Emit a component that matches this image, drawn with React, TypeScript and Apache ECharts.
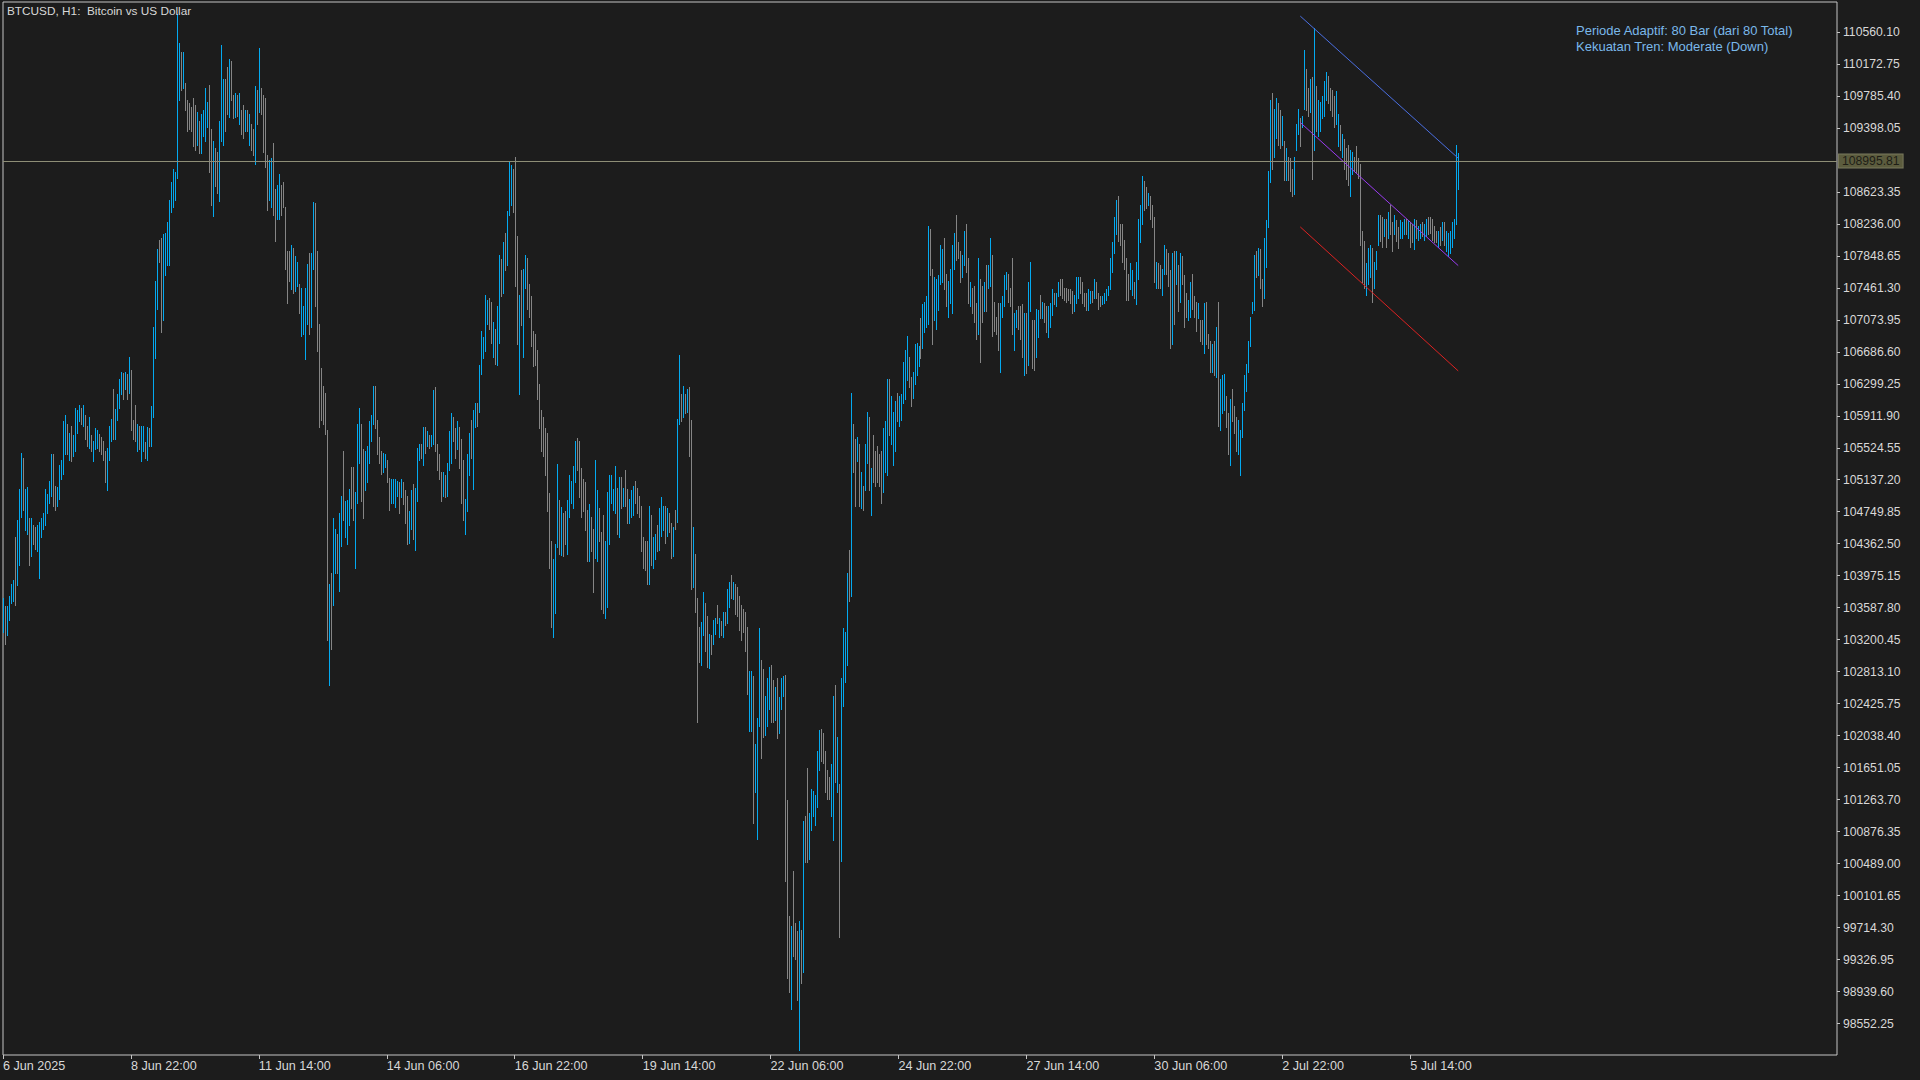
import React, { useEffect, useRef } from "react";
import * as echarts from "echarts";

// ---------- texts ----------
const symbolTitle = "BTCUSD, H1:  Bitcoin vs US Dollar";
const infoLines = ["Periode Adaptif: 80 Bar (dari 80 Total)", "Kekuatan Tren: Moderate (Down)"];
const currentPrice = 108995.81;

// ---------- axes ----------
const priceMin = 98173;
const priceMax = 110921;
const xTickIndex = [0, 64, 128, 192, 256, 320, 384, 448, 512, 576, 640, 704];
const xTickLabels = [
  "6 Jun 2025", "8 Jun 22:00", "11 Jun 14:00", "14 Jun 06:00", "16 Jun 22:00", "19 Jun 14:00",
  "22 Jun 06:00", "24 Jun 22:00", "27 Jun 14:00", "30 Jun 06:00", "2 Jul 22:00", "5 Jul 14:00",
];
const yTickValues = [
  110560.1, 110172.75, 109785.4, 109398.05, 108623.35, 108236.0, 107848.65, 107461.3, 107073.95,
  106686.6, 106299.25, 105911.9, 105524.55, 105137.2, 104749.85, 104362.5, 103975.15, 103587.8,
  103200.45, 102813.1, 102425.75, 102038.4, 101651.05, 101263.7, 100876.35, 100489.0, 100101.65,
  99714.3, 99326.95, 98939.6, 98552.25,
];

// ---------- regression channel (80 bars) ----------
const channelIdx = [649, 728];
const channelUpper = [110750, 109030];
const channelMid = [109462, 107730];
const channelLower = [108198, 106455];

// ---------- H1 bars (index 0 = 6 Jun 2025 06:00) ----------
const opens = [103450,
103520,103320,103500,103690,103720,104300,103950,104250,104800,105300,
104600,104550,104600,104260,104550,104520,104320,104050,104480,104570,
104640,104760,104900,105010,105380,105020,104850,104960,105180,105300,
105500,105780,105420,105740,105460,105560,105740,105880,105980,105830,
105880,105750,105570,105640,105390,105540,105560,105660,105630,105580,
105440,105080,105430,105650,106150,105670,105900,106050,106210,106390,
106260,106380,106240,106400,105830,105990,105520,105760,105400,105520,
105570,105420,105730,105600,106000,106720,107300,108010,107950,107180,
107670,107800,107830,108420,108500,108560,108850,109820,110280,109920,
109910,109700,109660,109620,109700,109620,109240,109440,109140,109330,
109300,109440,109820,109290,108420,109110,109060,108600,109330,109260,
109930,110080,109590,110170,109760,109560,109770,109480,109580,109630,
109390,109580,109230,109410,109340,109050,109820,109680,109840,109730,
109680,109000,108570,108500,109120,108590,108340,108350,108670,108700,
108370,107840,107870,107500,107890,107470,107520,107470,106940,106940,
106680,107100,107780,107080,107770,108380,107800,106920,106430,106230,
106150,105600,102760,103900,103730,104060,104440,103880,104390,105400,
104490,104410,104640,105250,105230,104160,104950,105410,105720,105430,
105060,105150,105390,105650,105870,106220,105820,105620,105450,105260,
105310,105350,105120,104890,104900,104850,104960,105070,104950,105080,
104970,104880,104420,104590,105010,104370,104940,105400,105540,105370,
105740,105570,105660,105560,105630,106180,105530,105410,105190,104970,
105160,104990,105310,105410,105870,105720,105550,105720,105550,105300,
104530,104830,105250,105810,105120,105810,106030,106020,106470,106640,
106760,107060,107300,107250,106670,106920,106600,106900,107770,107460,
108080,107800,108410,108500,108860,108900,107960,106300,107610,106730,
107500,107760,107470,107300,106900,106860,106650,106240,105940,105850,
105700,105620,104890,104300,103330,103610,104400,104830,104290,104680,
104720,104300,104740,104890,104850,105160,105600,105540,105220,105110,
105050,104710,104220,104650,104460,104300,104230,104750,104420,104600,
103550,103720,104440,104890,104800,104790,104990,104520,105140,104840,
105210,104980,104640,104720,104740,105090,105000,104910,104760,104400,
104360,104340,103970,104650,104110,104210,104550,104340,104500,104560,
104770,104490,104710,104560,104250,104750,104750,105900,106140,105940,
106150,105990,106180,105700,103920,104170,103570,103310,102950,103310,
103590,103420,102900,103230,103180,103300,103600,103260,103400,103270,
103520,103450,103630,103950,103720,103830,103800,103690,103580,103530,
103490,103280,102170,102160,102650,101420,100900,102250,102860,102780,
102090,102200,102400,102840,102660,102270,102670,102100,102390,102550,
102700,101100,99780,98820,100300,99730,99600,98350,99640,99300,
101010,101550,100600,100950,101100,101000,101240,101680,102080,102020,
101800,101580,101510,101130,100950,102550,101420,101300,100700,102500,
102750,103000,104230,103900,105770,105550,105390,105500,104840,105040,
105060,105400,105820,104760,105620,105440,105500,105400,105420,105060,
105290,105300,106300,105620,105380,105540,106160,105830,105890,106120,
106170,106390,106590,106340,106160,106340,106440,106540,107040,106790,
106960,107020,107150,108120,107600,107120,107020,107240,107560,107570,
108000,107590,107150,107320,107240,107740,108280,107990,107860,107620,
107780,108170,107770,107270,107420,107440,107230,107000,107460,107440,
107210,107680,107490,107540,107760,107260,107080,107220,106530,107140,
107270,107470,107590,107430,107720,106760,107010,107200,107190,107200,
106480,107080,106620,107230,107010,107010,106680,106890,107350,107110,
107250,107200,106900,107020,107160,107390,107250,107380,107550,107540,
107440,107440,107430,107420,107400,107200,107310,107370,107570,107500,
107380,107380,107220,107300,107410,107360,107510,107380,107350,107270,
107290,107330,107390,107470,107690,107920,108150,108510,108210,108190,
108000,107770,107590,107480,107410,107510,107310,107640,108050,108290,
108720,108650,108480,108540,108430,108240,107490,107730,107710,107410,
107660,107900,107840,107590,106880,107820,107540,107690,107340,107810,
107550,107370,107090,107150,107590,107330,107260,107110,107040,107040,
106730,107250,106880,106790,106480,106780,106420,107150,105780,105990,
106020,106120,105900,105390,106200,105990,105860,105480,105240,105690,
106020,106240,106470,106790,107170,107250,107870,107640,107890,107540,
107400,107760,108250,108820,109740,109090,109320,109650,109570,109230,
109190,108800,109010,108990,108870,108640,109160,109350,109480,109420,
109700,110060,109840,109630,109900,109250,109850,109330,109390,109540,
109580,109770,109990,109850,109830,109740,109480,109210,109400,109070,
109230,109110,109150,108620,108870,109030,109140,109000,108880,108090,
107980,107410,107550,107630,107880,107490,107720,108020,108310,108290,
108110,108260,108100,108420,108230,108130,108250,108170,108090,108090,
108130,108270,108090,108230,108210,107960,108250,108060,108090,108240,
108060,108110,108300,108300,108270,108190,108140,107980,108170,108060,
108230,107930,107870,107900,107990,108090,108280,108700];

const highs = [103700,
103608,103608,103725,103875,103925,104442,104650,105026,105460,105400,
105026,105050,104675,104675,104592,104567,104592,104625,104675,104734,
105026,104959,105126,105443,105443,105067,105050,105317,105376,105843,
105926,105818,105709,105793,105676,106010,105976,106043,106010,106043,
105926,105793,105901,105676,105609,105759,105743,105693,105659,105609,
105484,105526,105793,105876,106235,105993,106176,106360,106443,106426,
106443,106418,106626,106460,105859,106043,105809,105793,105793,105793,
105593,105776,105759,106026,106985,107543,107927,108044,108060,108110,
108127,108260,108527,108736,108902,108861,110778,110428,110320,110320,
109945,109736,109694,109653,109761,109678,109595,109486,109570,109611,
109878,109711,109920,109378,109236,109153,109111,109486,110403,109986,
109986,110136,110236,110211,109795,109820,109795,109820,109611,109678,
109611,109611,109570,109444,109378,109903,109861,110361,109878,109795,
109761,109069,109011,109027,109211,108652,108711,108844,108711,108736,
108444,107902,107902,107985,107944,107844,107777,107510,107460,107235,
107460,107752,107877,107877,108502,108486,107902,107027,106485,106276,
106193,105734,103875,104009,104675,104542,104484,104734,104942,105484,
104876,104892,105026,105292,105292,104984,105809,106010,105818,105509,
105484,105543,105843,105918,106276,106276,105859,105651,105484,105459,
105443,105376,105159,105142,105142,105150,105126,105109,105150,105109,
105009,104942,104759,105009,105084,105042,105526,105568,105568,105776,
105776,105726,105676,105676,106226,106260,105568,105443,105234,105234,
105192,105343,105726,105943,105901,105759,105843,105776,105626,105376,
104901,105443,105709,105859,105985,106068,106068,106526,106943,106860,
107377,107310,107343,107293,107043,106960,107235,107860,107810,108010,
108127,108394,109002,108944,108902,109044,108085,107377,107677,107694,
107860,107819,107510,107360,106943,106902,106710,106293,105985,105893,
105759,105709,104976,104392,104175,104359,105326,104892,104809,104734,
104759,104892,105192,105126,105309,105609,105643,105609,105276,105150,
105109,104776,104842,104692,104542,105376,105009,104792,104509,104709,
104400,104984,105192,105192,105026,105301,105042,105176,105176,105042,
105259,105026,104901,105009,105067,105126,105042,104942,104817,104442,
104400,104400,104817,104709,104442,104484,104592,104792,104926,104817,
104817,104792,104734,104609,104567,104776,105876,106652,106176,106276,
106176,106235,106260,105859,104567,104234,103708,103358,103417,103775,
103650,103484,103275,103258,103442,103458,103625,103458,103425,103542,
103542,103817,103900,103984,103900,103875,103842,103734,103625,103567,
103542,103358,102816,102816,102758,101941,102258,103342,102958,102841,
102525,102733,102875,102900,102708,102625,102733,102508,102733,102758,
102775,101257,99857,99732,100399,99773,99673,99790,99690,101007,
101066,101649,101107,101399,101374,101316,101858,102108,102125,102066,
101858,101624,101541,101691,102525,102650,102024,101457,102733,103342,
103292,104009,104292,106193,105818,105626,105651,105568,105234,105067,
105568,105960,105901,105276,105676,105484,105543,105443,105484,105759,
105843,106360,106360,106151,105960,106093,106193,106151,106176,106568,
106710,106877,106627,106376,106443,106777,106793,106760,107093,107260,
107293,107360,108210,108177,107694,107594,107568,107610,107985,107927,
108069,107627,107543,107694,107985,108127,108344,108010,107902,107860,
108152,108235,107819,107527,107460,107485,107277,107819,107568,107485,
107527,107735,107735,108069,107860,107293,107110,107277,107277,107360,
107610,107652,107627,107460,107819,107152,107193,107235,107235,107260,
107152,107152,107527,107777,107068,107068,107210,107193,107377,107293,
107277,107235,107235,107277,107443,107401,107401,107527,107568,107568,
107460,107460,107443,107443,107426,107377,107594,107594,107594,107527,
107401,107401,107443,107426,107426,107568,107527,107401,107360,107360,
107401,107443,107485,107819,108010,108319,108527,108569,108235,108235,
108044,107819,107627,107760,107677,107527,107777,108294,108461,108819,
108760,108677,108611,108569,108461,108319,107777,107760,107735,107694,
107985,107927,107877,107677,107877,107902,107902,107735,107877,107844,
107610,107401,107318,107527,107627,107360,107293,107277,107068,107068,
107277,107293,106902,106818,106777,106818,106985,107293,106360,106401,
106418,106151,105943,106110,106235,106026,105901,105859,105734,106068,
106401,106543,106818,107110,107293,107860,107902,107944,107927,107568,
108069,108277,108877,109736,109820,109628,109753,109694,109611,109545,
109236,109153,109044,109027,108902,109044,109444,109628,109511,109545,
110345,110111,109878,109986,110011,110612,109903,109736,109711,109778,
109961,110070,110028,109878,109861,109778,109845,109570,109428,109320,
109261,109153,109194,109128,109111,109044,109178,109027,108961,108152,
108027,107760,107944,107985,107944,107777,107902,108344,108344,108319,
108294,108294,108377,108461,108260,108344,108277,108194,108277,108260,
108294,108294,108277,108260,108235,108294,108277,108210,108235,108260,
108235,108294,108319,108319,108294,108210,108152,108152,108194,108260,
108260,108152,108127,108152,108260,108294,109194,109094];

const lows = [103300,
103150,103258,103442,103650,103675,103625,103859,104109,104692,104776,
104525,104484,104109,104209,104359,104300,104275,103942,104442,104542,
104584,104734,104859,104942,104817,104776,104817,104900,105150,105209,
105443,105443,105376,105359,105426,105484,105709,105843,105818,105793,
105626,105543,105526,105484,105359,105509,105526,105484,105443,105376,
105109,105009,105376,105609,105626,105626,105859,106010,106176,106110,
106235,106110,106193,105734,105626,105609,105484,105509,105359,105484,
105401,105376,105543,105543,105901,106610,107210,107777,106927,107068,
107610,107735,107735,108377,108444,108527,108794,109736,109861,109878,
109611,109361,109378,109361,109178,109128,109194,109094,109094,109294,
109236,109403,108861,108461,108336,108694,108611,108511,109236,109194,
109361,109570,109528,109736,109511,109528,109545,109444,109320,109278,
109361,109361,109194,109128,109069,108961,109444,109595,109570,109111,
108919,108402,108527,108444,108344,108027,108294,108294,108344,108444,
107694,107277,107543,107443,107401,107426,107485,107152,106877,106902,
106593,107027,106902,106985,107694,107235,106693,105776,105859,105818,
105693,103192,102650,103092,103625,104009,104009,103792,104334,104650,
104442,104359,104592,104792,104650,104067,104859,105343,104876,104675,
105009,105109,105343,105609,105818,105759,105443,105343,105209,105234,
105292,105109,104776,104859,104859,104809,104942,104734,104926,104842,
104609,104359,104375,104542,104425,104292,104876,105376,105401,105317,
105459,105543,105526,105543,105568,105484,105259,105150,104876,104942,
104926,104942,105259,105343,105609,105401,105509,105276,104859,104650,
104484,104759,105192,105401,105026,105776,105793,105960,106418,106610,
106693,107027,106960,106793,106627,106543,106526,106793,107360,107401,
107677,107735,108344,108461,108377,107485,106777,106176,107010,106627,
107460,107210,107110,106760,106510,106526,106110,105759,105484,105426,
105192,104759,104067,103358,103233,103525,104317,104234,104225,104209,
104359,104234,104692,104859,104792,105109,105259,104926,104692,104759,
104525,104150,104150,104275,103775,104192,104150,104400,103567,103525,
103458,103592,104359,104859,104776,104734,104484,104442,104792,104817,
104817,104609,104609,104692,104709,104859,104734,104692,104275,104067,
104042,103875,103875,104109,104067,104175,104275,104292,104459,104525,
104375,104459,104509,104192,104209,104542,104625,105818,105843,105901,
105943,105960,105426,103817,103842,103542,102208,102925,102900,103258,
103067,102875,102858,103025,103150,103275,103400,103233,103258,103233,
103375,103400,103592,103708,103692,103508,103484,103317,103192,103292,
103067,102541,102091,102091,100982,101357,100791,102150,101774,102024,
102041,102150,102358,102208,102208,102233,102008,102066,102358,102525,
100274,99106,98940,98731,99373,99340,98840,98231,99040,99173,
100507,100507,100540,100899,101066,100957,101174,101624,101733,101708,
101357,101274,101274,101066,100774,101482,101357,99607,100524,102400,
102691,102900,103675,103734,105234,104817,105359,104817,104792,104776,
105009,105343,105009,104709,105109,105067,105109,105067,104859,104984,
105234,105192,105676,105568,105317,105484,105843,105793,105859,106068,
106110,106343,106260,106026,106126,106293,106401,106510,106610,106735,
106927,106985,107027,107610,106777,107068,106960,107193,107510,107527,
107443,107235,107110,107277,107152,107694,107794,107819,107527,107594,
107735,107652,107277,107235,107152,107043,106843,106902,106568,107043,
107177,107177,107460,107485,106877,106943,106902,106710,106443,107110,
107235,107443,107293,107235,106902,106710,106985,106960,106843,106627,
106401,106426,106526,107177,106485,106460,106627,106860,107093,107093,
107043,106927,106860,106985,107127,107260,107235,107360,107377,107343,
107310,107293,107310,107277,107152,107177,107277,107343,107401,107277,
107235,107193,107193,107277,107293,107343,107343,107210,107235,107260,
107277,107318,107377,107443,107652,107877,108110,108027,107985,107777,
107694,107318,107318,107443,107377,107343,107260,107568,108010,108235,
108402,108427,108461,108294,108194,107527,107460,107460,107460,107377,
107627,107627,107485,106735,106777,107027,107510,107177,107293,107510,
106985,107110,107068,107110,107210,107110,106943,107093,106818,106777,
106677,106777,106735,106443,106443,106401,106376,105793,105734,105943,
105985,105776,105443,105317,105843,105709,105484,105443,105192,105651,
105985,106210,106443,106760,107152,107193,107594,107610,107460,107235,
107343,107710,108194,108736,108902,109044,109278,109194,109153,109194,
108761,108761,108761,108627,108569,108594,109128,109320,109178,109403,
109628,109611,109545,109595,108777,109128,109361,109294,109361,109511,
109545,109736,109694,109611,109545,109403,109444,109178,109128,109044,
108902,108777,108711,108569,108844,108877,108861,108794,107985,107527,
107460,107377,107510,107594,107293,107460,107694,107985,108027,107960,
108094,107960,108069,108110,107902,108110,108027,107944,108069,108069,
108110,108110,108069,107960,108010,107927,108069,108044,108069,108094,
108044,108094,108110,108127,108044,108010,108010,107960,107985,108044,
107985,107902,107844,107877,107960,108069,108235,108652];

const closes = [103600,
103240,103540,103670,103830,103880,103780,104560,104900,105380,104900,
104950,104980,104200,104600,104400,104340,104540,104560,104630,104700,
104960,104920,105080,105380,104900,104820,105010,105260,105340,105760,
105860,105500,105660,105420,105640,105950,105930,106010,105850,106000,
105670,105580,105850,105510,105570,105720,105710,105510,105470,105410,
105160,105470,105740,105840,105700,105950,106130,106310,106400,106150,
106410,106150,106580,105800,105660,105650,105770,105540,105750,105760,
105430,105730,105570,105970,106880,107450,107850,107810,107050,108000,
108070,108200,108440,108690,108850,108820,110100,110350,109900,110260,
109650,109400,109410,109390,109240,109180,109550,109130,109520,109570,
109810,109670,108960,108550,109150,108740,108660,109390,110300,109920,
109420,109620,110170,109780,109540,109790,109570,109780,109350,109320,
109580,109390,109530,109160,109100,109810,109490,110280,109600,109180,
109000,108470,108960,108970,108430,108080,108670,108790,108380,108480,
107770,107340,107580,107930,107460,107800,107740,107190,107400,107190,
107370,107680,107000,107790,108420,107350,106800,105900,105910,105860,
105740,103400,103770,103200,104580,104490,104060,104650,104880,104730,
104830,104840,104980,104850,104710,104900,105720,105940,104970,104760,
105430,105500,105790,105880,106220,105810,105490,105380,105240,105430,
105420,105140,104820,105110,105100,105110,105100,104770,105120,104870,
104650,104420,104710,104960,104490,104970,105460,105540,105430,105720,
105490,105700,105550,105660,106150,105560,105290,105180,104920,105200,
104960,105300,105680,105880,105640,105440,105800,105330,104940,104720,
104850,105370,105650,105450,105890,106030,105830,106460,106890,106830,
107310,107280,107000,106840,107000,106580,107170,107760,107400,107950,
107720,108330,108940,108900,108420,107630,106900,107260,107080,107590,
107820,107270,107150,106820,106550,106570,106170,105810,105530,105470,
105250,104850,104160,103460,104080,104270,105230,104300,104750,104260,
104400,104830,105140,105090,105250,105560,105300,104990,104750,104800,
104580,104210,104770,104320,103860,105260,104920,104440,103660,103640,
104300,104850,105110,105160,104990,105240,104540,105100,104830,105010,
104860,104650,104870,104970,105030,104890,104770,104720,104330,104110,
104080,103930,104720,104170,104400,104450,104310,104740,104880,104780,
104420,104750,104530,104240,104520,104570,105760,106560,105880,106230,
105970,106200,105510,104000,104480,103610,102400,102970,103360,103720,
103120,102940,103230,103050,103410,103430,103420,103430,103280,103500,
103400,103770,103860,103740,103870,103550,103530,103370,103240,103320,
103120,102630,102740,102750,101150,101880,102150,103230,101880,102080,
102480,102680,102830,102270,102250,102590,102070,102470,102700,102730,
100500,99300,99020,99640,99460,99380,98920,99650,99090,100850,
100560,100600,101050,101340,101330,101270,101780,102050,101780,101750,
101410,101310,101300,101620,102350,101600,101950,99800,102550,103250,
103230,103900,103740,105950,105290,104900,105620,104890,105190,104800,
105510,105900,105090,105220,105160,105110,105150,105100,104920,105680,
105780,106250,105740,106090,105900,106040,105880,106110,106140,106520,
106650,106830,106300,106060,106410,106730,106750,106730,106660,107200,
107250,107320,108100,107670,106870,107540,107510,107570,107930,107880,
107510,107280,107500,107650,107900,108080,107850,107840,107570,107830,
108110,107710,107330,107490,107190,107090,106890,107720,106670,107090,
107490,107230,107700,108010,106970,106980,106930,106770,107190,107330,
107570,107620,107330,107260,107000,107100,107160,106990,106880,106690,
107070,106500,107420,107720,106540,106520,107150,107160,107120,107270,
107070,106960,107200,107240,107410,107280,107380,107500,107400,107370,
107330,107310,107330,107300,107180,107350,107560,107570,107420,107300,
107260,107220,107410,107410,107310,107540,107360,107230,107250,107350,
107390,107430,107470,107780,107970,108270,108480,108090,108010,107830,
107740,107370,107350,107720,107640,107360,107730,108230,108420,108760,
108440,108450,108590,108320,108220,107600,107740,107490,107480,107660,
107950,107650,107520,106830,107770,107100,107860,107230,107820,107540,
107040,107140,107290,107490,107250,107140,106980,107260,106840,106800,
107220,106820,106750,106470,106740,106440,106930,105900,106300,106360,
106380,105810,105490,106040,105880,105740,105520,105820,105690,106030,
106360,106510,106790,107080,107280,107800,107620,107910,107500,107270,
108000,108230,108820,109650,108980,109580,109710,109240,109190,109510,
108810,109110,108790,108670,108600,109000,109410,109590,109210,109530,
110270,109660,109580,109940,108880,110450,109410,109690,109670,109750,
109920,110040,109730,109640,109580,109440,109800,109530,109160,109290,
108940,108820,108760,109070,109080,108900,108890,108820,108080,107590,
107510,107720,107900,107950,107350,107740,107880,108310,108060,107990,
108270,107990,108340,108140,107930,108320,108050,107970,108260,108240,
108280,108130,108260,107990,108030,108260,108090,108190,108220,108110,
108220,108280,108130,108150,108070,108030,108030,108130,108010,108240,
108010,108120,108100,108130,108230,108270,109100,108995.81];

// ---------- colours ----------
const BG = "#1c1c1c";
const FG = "#d8d8d8";
const FRAME = "#c4c4c4";
const UP = "#03a9f0";
const DOWN = "#858585";
const FONT = '"Liberation Sans", Arial, sans-serif';

export default function App() {
  const ref = useRef<HTMLDivElement>(null);

  useEffect(() => {
    if (!ref.current) return;
    const chart = echarts.init(ref.current, undefined, { renderer: "svg" });
    const n = Math.min(opens.length, highs.length, lows.length, closes.length);
    const bars: number[][] = [];
    for (let j = 0; j < n; j++) bars.push([j, opens[j], highs[j], lows[j], closes[j]]);

    const chan = (vals: number[]) => channelIdx.map((x, k) => [x, vals[k]]);

    chart.setOption({
      animation: false,
      backgroundColor: BG,
      grid: {
        left: 2,
        top: 2,
        right: 83,
        bottom: 25,
        show: true,
        borderColor: FRAME,
        borderWidth: 1,
        backgroundColor: "transparent",
      },
      xAxis: {
        type: "value",
        min: 0,
        max: 917.5,
        axisLine: { show: false, onZero: false },
        splitLine: { show: false },
        axisTick: {
          show: true,
          customValues: xTickIndex,
          length: 4,
          lineStyle: { color: FRAME, width: 1 },
        },
        axisLabel: {
          show: true,
          customValues: xTickIndex,
          align: "left",
          margin: 4,
          color: FG,
          fontSize: 12.6,
          fontFamily: FONT,
          hideOverlap: false,
          formatter: (v: number) => {
            const k = xTickIndex.indexOf(Math.round(v));
            return k >= 0 ? xTickLabels[k] : "";
          },
        },
      },
      yAxis: {
        type: "value",
        position: "right",
        min: priceMin,
        max: priceMax,
        scale: true,
        axisLine: { show: false, onZero: false },
        splitLine: { show: false },
        axisTick: {
          show: true,
          customValues: yTickValues,
          length: 3,
          lineStyle: { color: FRAME, width: 1 },
        },
        axisLabel: {
          show: true,
          customValues: yTickValues,
          margin: 6,
          color: FG,
          fontSize: 12.2,
          fontFamily: FONT,
          hideOverlap: false,
          formatter: (v: number) => v.toFixed(2),
        },
      },
      series: [
        {
          type: "custom",
          name: "BTCUSD",
          clip: true,
          encode: { x: 0, y: [2, 3] },
          data: bars,
          renderItem: (_p: any, api: any) => {
            const j = api.value(0);
            const o = api.value(1);
            const h = api.value(2);
            const l = api.value(3);
            const c = api.value(4);
            const top = api.coord([j, h]);
            const bot = api.coord([j, l]);
            const x = Math.round(top[0]) + 0.5;
            return {
              type: "line",
              shape: { x1: x, y1: Math.round(top[1]), x2: x, y2: Math.round(bot[1]) + 1 },
              style: { stroke: c >= o ? UP : DOWN, lineWidth: 1 },
            };
          },
          z: 2,
        },
        {
          type: "line",
          name: "upper",
          data: chan(channelUpper),
          showSymbol: false,
          symbol: "none",
          lineStyle: { color: "#4a6ee0", width: 1 },
          z: 3,
          markLine: {
            silent: true,
            symbol: ["none", "none"],
            lineStyle: { color: "#8e8e76", width: 1, type: "solid" },
            label: {
              show: true,
              position: "end",
              distance: 2,
              formatter: currentPrice.toFixed(2),
              color: "#1e1e16",
              backgroundColor: "#5c5c3e",
              borderColor: "#78785c",
              borderWidth: 1,
              padding: [1, 3, 0, 3],
              fontSize: 12.2,
              fontFamily: FONT,
            },
            data: [{ yAxis: currentPrice }],
          },
        },
        {
          type: "line",
          name: "middle",
          data: chan(channelMid),
          showSymbol: false,
          symbol: "none",
          lineStyle: { color: "#9a3cf0", width: 1 },
          z: 3,
        },
        {
          type: "line",
          name: "lower",
          data: chan(channelLower),
          showSymbol: false,
          symbol: "none",
          lineStyle: { color: "#dc2222", width: 1 },
          z: 3,
        },
      ],
      graphic: [
        {
          type: "text",
          left: 7,
          top: 5,
          z: 100,
          style: { text: symbolTitle, fill: FG, font: `11.8px ${FONT}` },
        },
        {
          type: "text",
          left: 1576,
          top: 23,
          z: 100,
          style: {
            text: infoLines.join("\n"),
            fill: "#7ab8ea",
            font: `13px ${FONT}`,
            lineHeight: 15.5,
          },
        },
      ],
    });

    return () => chart.dispose();
  }, []);

  return (
    <div
      ref={ref}
      style={{ position: "fixed", left: 0, top: 0, width: 1920, height: 1080, background: BG }}
    />
  );
}
